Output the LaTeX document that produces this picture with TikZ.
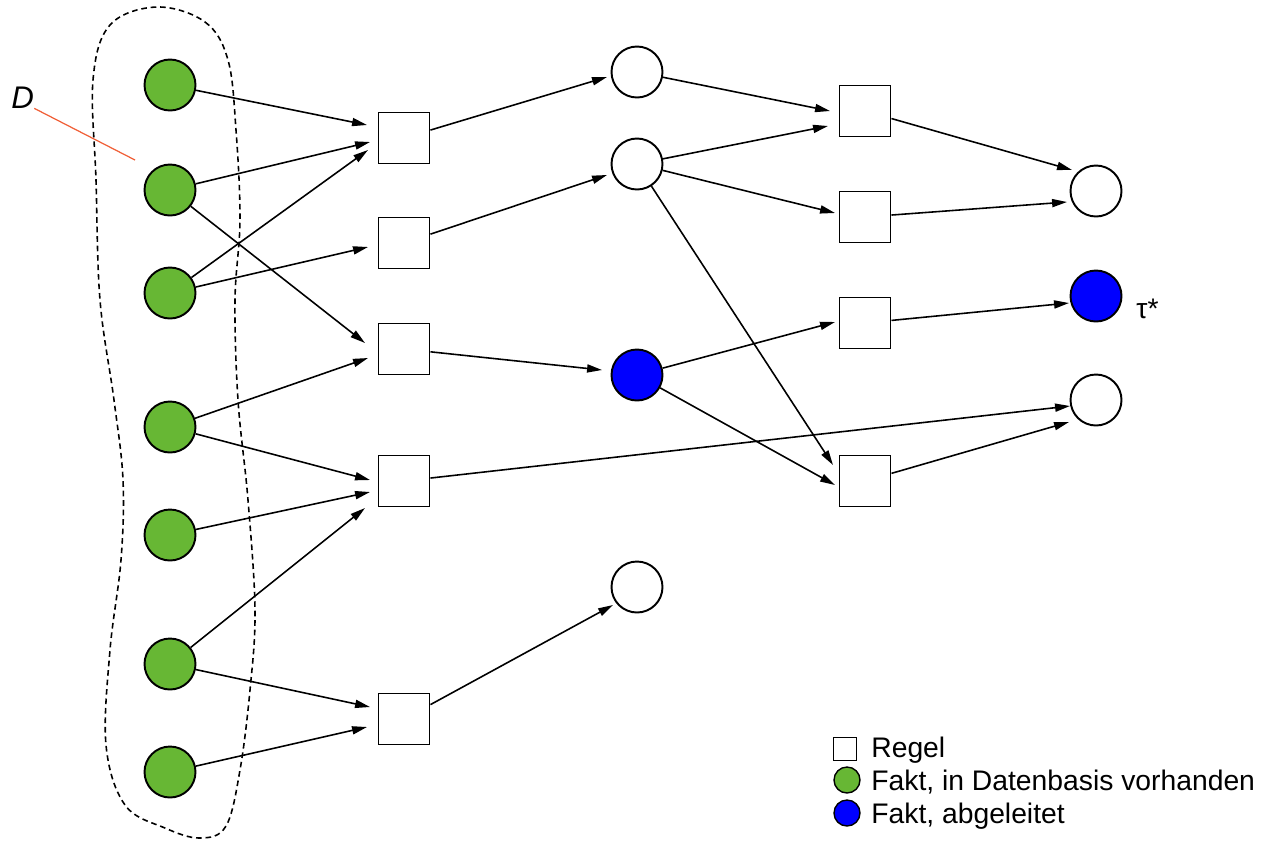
\documentclass[tikz,border=0pt]{standalone}
\usepackage{fontspec}
\setmainfont{Liberation Sans}
\usetikzlibrary{arrows.meta,calc}
\definecolor{factgreen}{RGB}{103,183,52}
\definecolor{factblue}{RGB}{0,0,255}
\definecolor{dred}{RGB}{240,95,55}
\begin{document}
\begin{tikzpicture}[x=0.02cm,y=-0.02cm,
  fact/.style={circle,draw,line width=1.1pt,minimum size=1.02cm,inner sep=0pt},
  given/.style={fact,fill=factgreen},
  derived/.style={fact,fill=factblue},
  rulebox/.style={rectangle,draw,line width=1.1pt,minimum size=1.02cm,inner sep=0pt},
  edge/.style={-{Triangle[length=8.5pt,width=4.6pt]},line width=0.9pt},
  lbl/.style={font=\fontsize{16.1}{18}\selectfont,inner sep=0pt,anchor=base west},
  region/.style={dash pattern=on 3.2pt off 2.2pt,line width=0.9pt}
]
\useasboundingbox (0,0) rectangle (1264,840);

% dashed region D
\draw[region] plot[smooth cycle,tension=0.6] coordinates {
  (157,7) (205,22) (228,60) (236,130) (240,220) (235,300) (238,400)
  (248,500) (255,610) (250,690) (240,770) (226,826) (200,838) (165,828)
  (125,805) (106,745) (110,650) (121,560) (123,480) (114,400) (100,300)
  (96,180) (93,80) (110,25)};

% given facts
\node[given] (g1) at (170,85) {};
\node[given] (g2) at (170,190) {};
\node[given] (g3) at (170,293) {};
\node[given] (g4) at (170,427) {};
\node[given] (g5) at (170,535) {};
\node[given] (g6) at (170,664) {};
\node[given] (g7) at (170,772) {};

% rules column 1
\node[rulebox] (s1) at (404,138) {};
\node[rulebox] (s2) at (404,243) {};
\node[rulebox] (s3) at (404,349) {};
\node[rulebox] (s4) at (404,481) {};
\node[rulebox] (s5) at (404,719) {};

% middle facts
\node[fact] (m1) at (637,72) {};
\node[fact] (m2) at (637,164) {};
\node[derived] (m3) at (637,375) {};
\node[fact] (m4) at (637,587) {};

% rules column 2
\node[rulebox] (t1) at (865,111) {};
\node[rulebox] (t2) at (865,217) {};
\node[rulebox] (t3) at (865,323) {};
\node[rulebox] (t4) at (865,481) {};

% right facts
\node[fact] (r1) at (1096,191) {};
\node[derived] (r2) at (1096,296) {};
\node[fact] (r3) at (1096,400) {};

% labels
\node[anchor=base west,inner sep=0pt,font=\fontsize{17.8}{20}\selectfont\itshape] (dlabel) at (11,108) {D};
\coordinate (dend) at (135,160);
\draw[dred,line width=0.7pt] (dlabel.south east) -- (dend);
\node[lbl] (tau) at (1136,318) {τ*};

% edges into column 1 rules
\draw[edge] (g1) -- ($(s1)+(-37,-13)$);
\draw[edge] (g2) -- ($(s1)+(-34,4)$);
\draw[edge] (g3) -- ($(s1)+(-36,12)$);
\draw[edge] (g3) -- ($(s2)+(-36,4)$);
\draw[edge] (g2) -- ($(s3)+(-39,-6)$);
\draw[edge] (g4) -- ($(s3)+(-36,9)$);
\draw[edge] (g4) -- ($(s4)+(-34,-1)$);
\draw[edge] (g5) -- ($(s4)+(-34,11)$);
\draw[edge] (g6) -- ($(s4)+(-39,27)$);
\draw[edge] (g6) -- ($(s5)+(-34,-12)$);
\draw[edge] (g7) -- ($(s5)+(-37,8)$);

% edges column 1 rules -> facts
\draw[edge] (s1) -- ($(m1)+(-30,5)$);
\draw[edge] (s2) -- ($(m2)+(-30,11)$);
\draw[edge] (s3) -- ($(m3)+(-35,-5)$);
\draw[edge] (s5) -- ($(m4)+(-24,18)$);
\draw[edge] (s4) -- ($(r3)+(-26,6)$);

% edges middle facts -> column 2 rules
\draw[edge] (m1) -- ($(t1)+(-35,0)$);
\draw[edge] (m2) -- ($(t1)+(-37,15)$);
\draw[edge] (m2) -- ($(t2)+(-30,-4)$);
\draw[edge] (m2) -- ($(t4)+(-32,-16)$);
\draw[edge] (m3) -- ($(t3)+(-30,-1)$);
\draw[edge] (m3) -- ($(t4)+(-30,4)$);

% edges column 2 rules -> right facts
\draw[edge] (t1) -- ($(r1)+(-24,-21)$);
\draw[edge] (t2) -- ($(r1)+(-29,11)$);
\draw[edge] (t3) -- ($(r2)+(-27,7)$);
\draw[edge] (t4) -- ($(r3)+(-27,22)$);

% legend
\node[rectangle,draw,line width=0.8pt,minimum size=0.46cm,inner sep=0pt] (legrule) at (845,749) {};
\node[circle,draw,line width=0.8pt,fill=factgreen,minimum size=0.52cm,inner sep=0pt] (leggiven) at (847,780) {};
\node[circle,draw,line width=0.8pt,fill=factblue,minimum size=0.52cm,inner sep=0pt] (legderived) at (847,813) {};
\node[lbl] (legruletext) at (871,757) {Regel};
\node[lbl] (leggiventext) at (871,790) {Fakt, in Datenbasis vorhanden};
\node[lbl] (legderivedtext) at (871,823) {Fakt, abgeleitet};
\end{tikzpicture}
\end{document}
